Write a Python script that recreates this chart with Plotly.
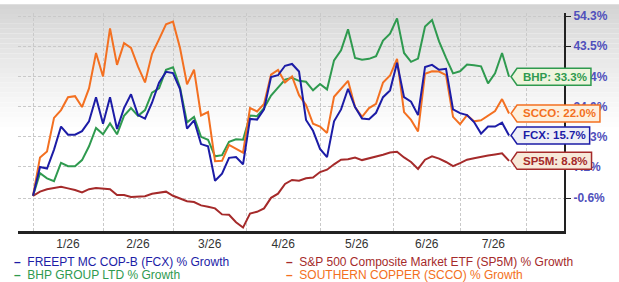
import math
import plotly.graph_objects as go

# ---------------- data ----------------
day_idx = list(range(0, 137, 2))          # trading-day index, one point every 2 sessions
month_starts = [0, 20, 40, 61, 82, 103, 122, 141]
month_labels = ["1/26", "2/26", "3/26", "4/26", "5/26", "6/26", "7/26"]

fcx = [0, 7.2, 6.8, 11.8, 18.2, 15.9, 15.9, 16.9, 19.7, 26.9, 19.0, 26.9, 17.5, 23.6, 27.8,
       21.5, 20.5, 25.2, 31.4, 34.9, 34.5, 29.4, 17.6, 20.0, 13.3, 12.7, 3.7, 5.5, 9.6, 9.8,
       7.9, 20.4, 20.2, 23.2, 33.2, 33.8, 36.9, 37.5, 35.0, 20.1, 17.0, 12.0, 9.8, 19.7, 23.2,
       29.5, 23.9, 20.5, 20.3, 22.2, 26.9, 29.0, 37.9, 26.9, 25.5, 21.5, 36.5, 37.2, 35.6,
       35.9, 23.2, 22.1, 21.5, 19.5, 16.2, 18.2, 18.2, 19.3, 15.7]
sp5m = [0, 1.0, 1.6, 1.9, 2.2, 1.8, 1.4, 0.8, 1.6, 1.9, 1.8, 1.6, 0.2, 0.2, -0.3, -0.2, -0.1,
        0.5, 0.8, 1.0, 0.0, -0.6, -1.3, -1.5, -2.3, -2.6, -3.0, -4.4, -4.5, -6.2, -7.4, -4.2,
        -3.8, -3.0, -0.5, 0.5, 2.9, 3.9, 3.7, 4.3, 4.5, 5.9, 6.5, 7.9, 9.1, 9.2, 9.7, 9.0, 9.4,
        10.0, 10.4, 11.0, 11.2, 9.7, 8.5, 6.7, 9.1, 10.0, 9.4, 8.5, 7.4, 8.2, 9.1, 9.5, 9.9,
        10.2, 10.5, 10.8, 8.8]
bhp = [0, 5.6, 4.3, 3.6, 8.3, 7.4, 7.4, 9.0, 12.7, 17.8, 16.0, 19.1, 16.0, 21.3, 23.6, 21.3,
       23.0, 28.3, 29.6, 35.6, 36.4, 29.9, 19.4, 21.0, 15.3, 14.5, 10.0, 10.3, 13.9, 14.6, 14.5,
       21.4, 21.2, 23.6, 27.4, 29.8, 32.4, 33.0, 32.0, 31.7, 29.0, 31.0, 29.3, 38.7, 42.1, 49.5,
       39.5, 38.9, 39.2, 40.1, 45.5, 47.9, 53.5, 41.2, 38.2, 39.3, 50.5, 52.9, 45.2, 39.5, 34.4,
       35.1, 37.3, 37.1, 36.7, 31.2, 34.4, 41.2, 33.3]
scco = [0, 9.7, 11.3, 20.7, 23.0, 26.9, 27.2, 23.9, 29.6, 41.2, 33.4, 49.8, 37.2, 44.6, 42.9,
        36.6, 31.5, 40.9, 45.9, 51.3, 52.3, 42.9, 30.9, 35.6, 21.4, 22.4, 8.7, 8.8, 13.1, 12.0,
        11.0, 23.6, 22.6, 24.8, 34.0, 35.5, 31.5, 33.4, 27.5, 24.5, 19.0, 18.2, 16.4, 27.0, 29.5,
        32.0, 23.9, 21.0, 23.6, 24.9, 31.5, 33.7, 39.2, 22.4, 20.1, 16.8, 34.3, 35.1, 35.0, 33.8,
        21.0, 18.9, 21.5, 19.7, 20.0, 21.4, 22.7, 26.3, 22.0]

y_ticks = [-0.6, 7.2, 15.3, 24.0, 33.4, 43.5, 54.3]

series = [
    # name, short, values, line colour, tag fill
    ("S&P 500 Composite Market ETF (SP5M) % Growth", "SP5M", sp5m, "#a52a2a", "#f7e9d9"),
    ("BHP GROUP LTD % Growth", "BHP", bhp, "#2f9a4f", "#eef4dd"),
    ("SOUTHERN COPPER (SCCO) % Growth", "SCCO", scco, "#f37021", "#fdf0dd"),
    ("FREEPT MC COP-B (FCX) % Growth", "FCX", fcx, "#1c1ca6", "#eeeff6"),
]

FONT = "Liberation Sans, Arial, sans-serif"
fig = go.Figure()

W, H = 619, 282
L, R, T, B = 18, 55, 9, 51
pw, ph = W - L - R, H - T - B
x_range = [-4.29, 151.7]
y_range = [math.log10(0.9184), math.log10(1.5551)]

# soft grey gradient at top of the page
nb = 26
for i in range(nb):
    y0p, y1p = i * 5, i * 5 + 5
    v = int(round(212 + (255 - 212) * (i / (nb - 1)) ** 0.9))
    fig.add_shape(type="rect", xref="paper", yref="paper",
                  x0=-L / pw, x1=1 + R / pw,
                  y0=1 - (y1p - T) / ph, y1=1 - (y0p - T) / ph,
                  fillcolor=f"rgb({v},{v},{v})", line_width=0, layer="below")

for name, short, vals, col, fill in series:
    fig.add_trace(go.Scatter(x=day_idx, y=[1 + v / 100 for v in vals], mode="lines",
                             line=dict(color=col, width=2), name=name,
                             showlegend=False, hoverinfo="skip"))

# approximate bold glyph widths (per 1000 em) to size the end tags
BW = {"B": 722, "H": 722, "P": 667, "S": 667, "C": 722, "O": 778, "F": 611, "X": 667,
      "M": 833, ":": 333, " ": 278, ".": 278, "%": 889}


def text_w(s, size=12):
    return sum(BW.get(ch, 556) for ch in s) * size / 1000


# end tags (pentagon pointer + text), anchored at the last point of each line
for name, short, vals, col, fill in series:
    yv = 1 + vals[-1] / 100
    xp = (day_idx[-1] - x_range[0]) / (x_range[1] - x_range[0])
    yp = (math.log10(yv) - y_range[0]) / (y_range[1] - y_range[0])
    label = f"{short}: {vals[-1]:.1f}%"
    w = text_w(label, 11.5) + 10
    tip, body, hh = 2, 8, 8.5
    path = (f"M {tip},0 L {body},{hh} L {body + w:.1f},{hh} L {body + w:.1f},{-hh} "
            f"L {body},{-hh} Z")
    fig.add_shape(type="path", xref="paper", yref="paper", xsizemode="pixel",
                  ysizemode="pixel", xanchor=xp, yanchor=yp, path=path,
                  fillcolor=fill, line=dict(color=col, width=1.5), layer="above")
    fig.add_annotation(x=day_idx[-1], y=math.log10(yv), xref="x", yref="y",
                       xanchor="left", yanchor="middle", xshift=body + 4, showarrow=False,
                       text=f"<b>{label}</b>",
                       font=dict(family=FONT, size=11.5, color=col))

# legend as text
legend_pos = [("FCX", 0, 0), ("SP5M", 1, 0), ("BHP", 0, 1), ("SCCO", 1, 1)]
lx = [12, 284]
ly = [263, 276]
lookup = {s[1]: s for s in series}
for key, c, r in legend_pos:
    name, short, vals, col, fill = lookup[key]
    fig.add_annotation(xref="paper", yref="paper",
                       x=(lx[c] - L) / pw, y=1 - (ly[r] - T) / ph,
                       xanchor="left", yanchor="middle", showarrow=False,
                       text=f"<b>–</b>&nbsp;&nbsp;{name}",
                       font=dict(family=FONT, size=12, color=col))

grid = dict(showgrid=True, gridcolor="#c9c9c9", griddash="3px,2px", gridwidth=1)
fig.update_layout(
    width=W, height=H, margin=dict(l=L, r=R, t=T, b=B),
    paper_bgcolor="white", plot_bgcolor="rgba(0,0,0,0)",
    xaxis=dict(range=x_range, tickmode="array", tickvals=month_starts,
               ticktext=[""] * len(month_starts), ticks="", zeroline=False,
               showline=True, linecolor="#222", linewidth=2.5, **grid),
    xaxis2=dict(range=x_range, overlaying="x", anchor="y", side="bottom",
                tickmode="array",
                tickvals=[(month_starts[i] + month_starts[i + 1]) / 2 for i in range(7)],
                ticktext=month_labels, showgrid=False, zeroline=False, ticks="",
                ticklabelstandoff=4,
                tickfont=dict(family=FONT, size=12, color="#333")),
    yaxis=dict(type="log", side="right", range=y_range,
               tickmode="array", tickvals=[1 + t / 100 for t in y_ticks],
               ticktext=[f"{t:.1f}%" for t in y_ticks],
               tickfont=dict(family=FONT, size=12, color="#5050bb", weight="bold"),
               ticks="outside", ticklen=5, tickcolor="#222",
               showline=True, linecolor="#222", linewidth=2, zeroline=False, **grid),
)
# dummy trace so xaxis2 renders
fig.add_trace(go.Scatter(x=[None], y=[None], xaxis="x2", yaxis="y", showlegend=False,
                         hoverinfo="skip"))

fig.write_html("out.html")
